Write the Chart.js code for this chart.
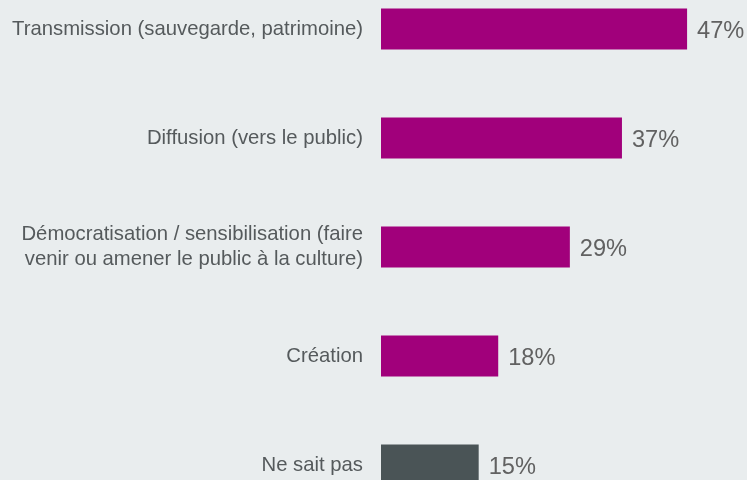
<!DOCTYPE html>
<html>
<head>
<meta charset="utf-8">
<script src="https://cdn.jsdelivr.net/npm/chart.js@4/dist/chart.umd.min.js"></script>
<style>
  html, body { margin: 0; padding: 0; background: #e9edee; overflow: hidden; }
  /* taller than the window: the last bar is cut off at the bottom in the original */
  #wrap { position: absolute; left: 0; top: -56.5px; width: 747px; height: 606px; }
</style>
</head>
<body>
<div id="wrap"><canvas id="chart"></canvas></div>
<script>
// categories and values
const categories = [
  'Transmission (sauvegarde, patrimoine)',
  'Diffusion (vers le public)',
  ['Démocratisation / sensibilisation (faire', 'venir ou amener le public à la culture)'],
  'Création',
  'Ne sait pas'
];
const values = [47, 37, 29, 18, 15];
const barColors = ['#a1007b', '#a1007b', '#a1007b', '#a1007b', '#4a5456'];

// draws the "47%" style labels to the right of each bar
const valueLabels = {
  id: 'valueLabels',
  afterDatasetsDraw(chart) {
    const ctx = chart.ctx;
    const meta = chart.getDatasetMeta(0);
    ctx.save();
    ctx.font = '23.6px "Liberation Sans", Arial, sans-serif';
    ctx.fillStyle = '#616161';
    ctx.textAlign = 'left';
    ctx.textBaseline = 'middle';
    meta.data.forEach((bar, i) => {
      ctx.fillText(values[i] + '%', bar.x + 10, bar.y + 2.5);
    });
    ctx.restore();
  }
};

new Chart(document.getElementById('chart'), {
  type: 'bar',
  data: {
    labels: categories,
    datasets: [{
      data: values,
      backgroundColor: barColors,
      borderWidth: 0,
      categoryPercentage: 1,
      barPercentage: 0.376
    }]
  },
  options: {
    indexAxis: 'y',
    responsive: true,
    maintainAspectRatio: false,
    animation: false,
    layout: { padding: 0 },
    plugins: {
      legend: { display: false },
      tooltip: { enabled: false }
    },
    scales: {
      x: {
        display: false,
        min: 0,
        max: 56.2
      },
      y: {
        grid: { display: false, drawTicks: false },
        border: { display: false },
        ticks: {
          padding: 18,
          color: '#555a5c',
          font: { family: '"Liberation Sans", Arial, sans-serif', size: 20.3, lineHeight: 1.23 }
        },
        afterFit(scale) { scale.width = 381; }
      }
    }
  },
  plugins: [valueLabels]
});
</script>
</body>
</html>
